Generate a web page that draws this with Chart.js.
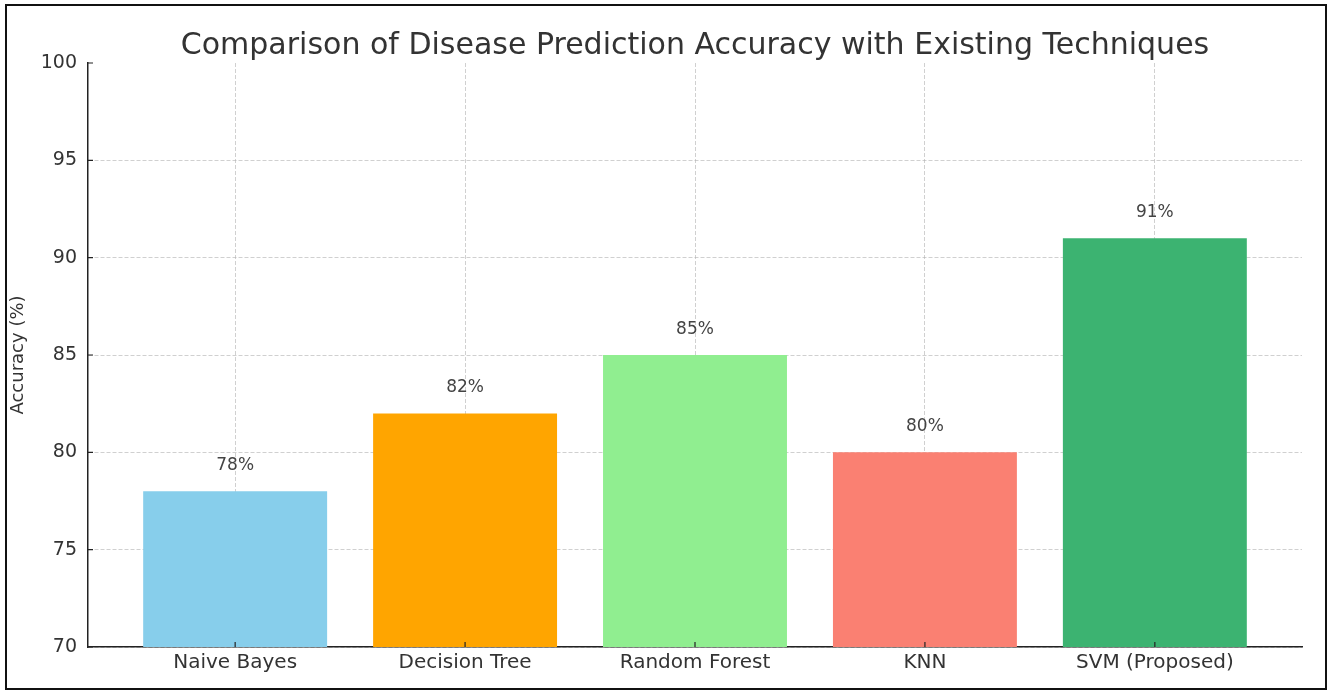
<!DOCTYPE html>
<html>
<head>
<meta charset="utf-8">
<script src="https://cdn.jsdelivr.net/npm/chart.js@4.4.1/dist/chart.umd.min.js"></script>
<style>
  html, body { margin: 0; padding: 0; background: #fff; }
  #frame {
    position: absolute; left: 5px; top: 4px; width: 1318px; height: 682px;
    border: 2px solid #111;
  }
  #wrap { position: absolute; left: 0; top: 0; width: 1331px; height: 691px; }
</style>
</head>
<body>
<div id="frame"></div>
<div id="wrap"><canvas id="chart"></canvas></div>
<script>
// data
const categories = ['Naive Bayes', 'Decision Tree', 'Random Forest', 'KNN', 'SVM (Proposed)'];
const accuracy = [78, 82, 85, 80, 91];
const barColors = ['#87CEEB', '#FFA500', '#90EE90', '#FA8072', '#3CB371'];
const yTicks = [70, 75, 80, 85, 90, 95, 100];

const FONT = "'DejaVu Sans', sans-serif";
const TEXT = '#333333';
const GRID = 'rgba(176,176,176,0.6)';

// matplotlib-style ticks pointing into the plot
const innerTicks = {
  id: 'innerTicks',
  afterDatasetsDraw(chart) {
    const { ctx, chartArea, scales } = chart;
    ctx.save();
    ctx.strokeStyle = '#222';
    ctx.lineWidth = 1.2;
    ctx.beginPath();
    yTicks.forEach(v => {
      const y = scales.y.getPixelForValue(v);
      ctx.moveTo(chartArea.left, y);
      ctx.lineTo(chartArea.left + 5, y);
    });
    categories.forEach((c, i) => {
      const x = scales.x.getPixelForValue(i);
      ctx.moveTo(x, chartArea.bottom);
      ctx.lineTo(x, chartArea.bottom - 5);
    });
    ctx.stroke();
    ctx.restore();
  }
};

// "78%" style labels one unit above each bar
const valueLabels = {
  id: 'valueLabels',
  afterDatasetsDraw(chart) {
    const { ctx, scales } = chart;
    const meta = chart.getDatasetMeta(0);
    ctx.save();
    ctx.font = '17px ' + FONT;
    ctx.fillStyle = '#444';
    ctx.textAlign = 'center';
    ctx.textBaseline = 'alphabetic';
    meta.data.forEach((bar, i) => {
      ctx.fillText(accuracy[i] + '%', bar.x, scales.y.getPixelForValue(accuracy[i] + 1) - 2);
    });
    ctx.restore();
  }
};

new Chart(document.getElementById('chart'), {
  type: 'bar',
  data: {
    datasets: [{
      data: categories.map((c, i) => ({ x: i, y: accuracy[i] })),
      backgroundColor: barColors,
      borderWidth: 0,
      categoryPercentage: 1,
      barPercentage: 0.8
    }]
  },
  options: {
    responsive: true,
    maintainAspectRatio: false,
    animation: false,
    layout: { padding: { top: 0, left: 8, right: 29, bottom: 4 } },
    plugins: {
      legend: { display: false },
      tooltip: { enabled: false },
      title: {
        display: true,
        fullSize: false,
        text: 'Comparison of Disease Prediction Accuracy with Existing Techniques',
        color: TEXT,
        font: { family: FONT, size: 30, weight: 'normal', lineHeight: 1.1 },
        padding: { top: 30, bottom: 0 }
      }
    },
    scales: {
      x: {
        type: 'linear',
        min: -0.64,
        max: 4.64,
        bounds: 'data',
        offset: false,
        z: 1,
        afterBuildTicks: s => { s.ticks = categories.map((c, i) => ({ value: i })); },
        afterFit: s => { s.height = 40; },
        border: { display: true, color: '#222', width: 1.5, dash: [4, 2] },
        grid: {
          offset: false,
          drawTicks: false,
          color: GRID,
          lineWidth: 1
        },
        ticks: {
          autoSkip: false,
          maxRotation: 0,
          padding: 4,
          color: TEXT,
          font: { family: FONT, size: 20 },
          callback: v => categories[v]
        }
      },
      y: {
        min: 70,
        max: 100,
        z: 1,
        afterFit: s => { s.width = 80; },
        border: { display: true, color: '#222', width: 1.5, dash: [4, 2] },
        grid: {
          drawTicks: false,
          color: ctx => ctx.tick && ctx.tick.value === 100 ? 'rgba(0,0,0,0)' : GRID,
          lineWidth: 1
        },
        ticks: {
          stepSize: 5,
          padding: 11,
          color: TEXT,
          font: { family: FONT, size: 19 }
        },
        title: {
          display: true,
          text: 'Accuracy (%)',
          color: TEXT,
          padding: 0,
          font: { family: FONT, size: 18 }
        }
      }
    }
  },
  plugins: [innerTicks, valueLabels]
});
</script>
</body>
</html>
